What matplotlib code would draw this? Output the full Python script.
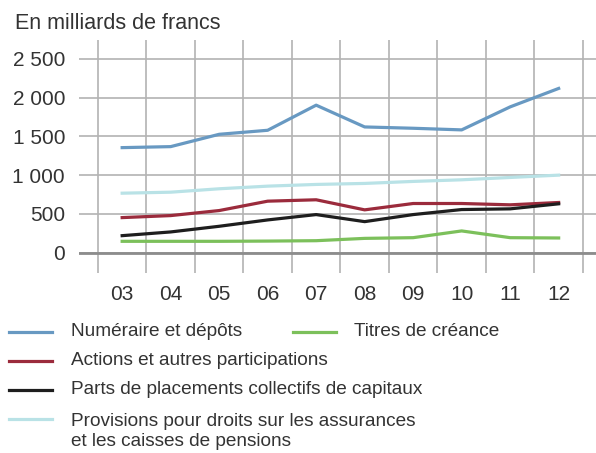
import numpy as np
import matplotlib.pyplot as plt
from matplotlib.lines import Line2D

plt.rcParams['font.family'] = ['Liberation Sans', 'DejaVu Sans']

years = ['03', '04', '05', '06', '07', '08', '09', '10', '11', '12']
numeraire = [1356, 1369, 1528, 1580, 1904, 1623, 1606, 1585, 1882, 2120]
actions = [453, 479, 544, 665, 683, 553, 635, 635, 618, 648]
parts = [220, 268, 341, 423, 492, 401, 492, 557, 566, 631]
provisions = [768, 781, 825, 859, 881, 894, 920, 941, 971, 1001]
titres = [147, 147, 147, 150, 155, 185, 194, 281, 194, 190]

labels = ['Numéraire et dépôts', 'Actions et autres participations',
          'Parts de placements collectifs de capitaux',
          'Provisions pour droits sur les assurances\net les caisses de pensions',
          'Titres de créance']
colors = ['#6899c2', '#9b2b3c', '#1e1e1e', '#b9e2e6', '#7cc05b']
series = [numeraire, actions, parts, provisions, titres]

txt = '#333333'
fig = plt.figure(figsize=(5.96, 4.53), dpi=100)
ax = fig.add_axes([79 / 596, 1 - 272.7 / 453, 1 - 79 / 596, (272.7 - 40) / 453])

x = np.arange(len(years))
# light ones first, blue on top
for i in [3, 4, 1, 2, 0]:
    ax.plot(x, series[i], color=colors[i], lw=2.3, zorder=3)

ax.set_xlim(-0.89, 9.77)
ax.set_ylim(-258, 2745)
ax.set_yticks([0, 500, 1000, 1500, 2000, 2500])
ax.set_yticklabels(['0', '500', '1 000', '1 500', '2 000', '2 500'])
ax.set_xticks(x)
ax.set_xticklabels(years)
ax.set_xticks(np.arange(-0.5, 10, 1), minor=True)
ax.tick_params(which='both', length=0, labelsize=15, colors=txt)
ax.tick_params(axis='x', pad=9)
ax.tick_params(axis='y', pad=10)
ax.grid(True, which='minor', axis='x', color='#b3b3b3', lw=1.2)
ax.grid(True, which='major', axis='y', color='#b3b3b3', lw=1.2)
ax.axhline(0, color='#8c8c8c', lw=2, zorder=2)
for s in ax.spines.values():
    s.set_visible(False)

fig.text(15 / 596, 1 - 29 / 453, 'En milliards de francs', fontsize=15.5,
         color=txt, va='baseline', ha='left')

# legend, laid out like the original
rows = [(0, 331.5, 9, 71), (4, 331.5, 293, 354), (1, 360.5, 9, 71),
        (2, 390, 9, 71), (3, 418.5, 9, 71)]
for idx, yy, hx, tx in rows:
    fy = 1 - yy / 453
    fig.add_artist(Line2D([hx / 596, (hx + 43) / 596], [fy, fy],
                          color=colors[idx], lw=2.3, transform=fig.transFigure))
    if '\n' in labels[idx]:
        fig.text(tx / 596, fy + 6 / 453, labels[idx], fontsize=13.7, color=txt,
                 va='top', ha='left', linespacing=1.3)
    else:
        fig.text(tx / 596, fy, labels[idx], fontsize=13.7, color=txt,
                 va='center', ha='left')

fig.savefig('out.png', dpi=100)
